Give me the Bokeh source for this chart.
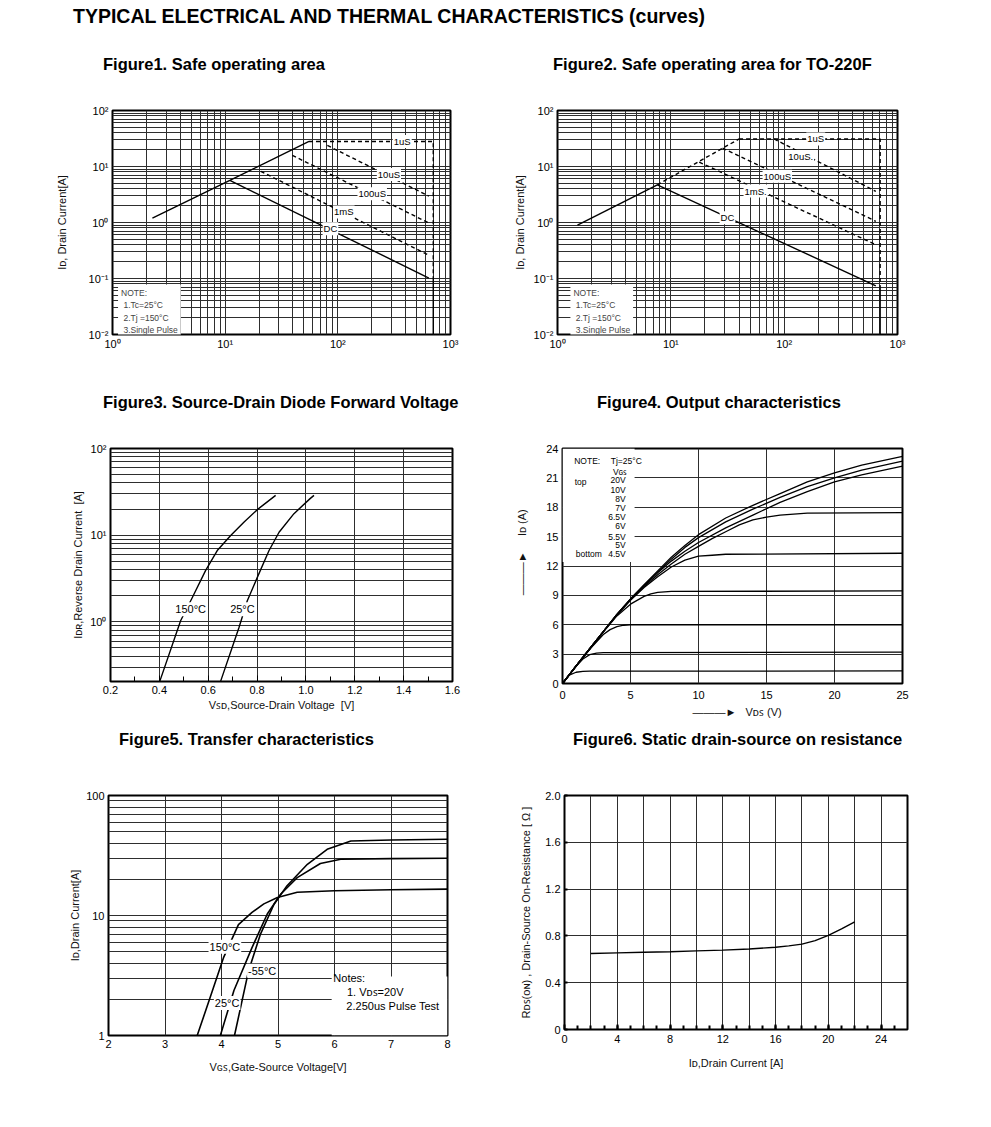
from bokeh.plotting import figure
from bokeh.models import Range1d, FixedTicker, CustomJSTickFormatter, Label, Div, PrintfTickFormatter
from bokeh.layouts import column, row
from bokeh.embed import file_html
from bokeh.resources import INLINE

FONT = "Liberation Sans"
NB = "\u00a0"

# ---------------- Figure 1: Safe operating area ----------------
f1_env_x = [2.26, 11.0, 55.5]
f1_env_y = [1.2, 5.65, 28.0]
f1_dc_x = [11.0, 643.0]
f1_dc_y = [5.65, 0.102]
f1_lim_x = [55.5, 703.0, 703.0]
f1_lim_y = [28.0, 28.0, 0.11]
f1_cut_x = [703.0, 703.0]
f1_cut_y = [0.11, 0.01]
f1_10us_x = [80.7, 643.0]
f1_10us_y = [23.8, 2.96]
f1_100us_x = [39.5, 643.0]
f1_100us_y = [15.8, 0.98]
f1_1ms_x = [20.7, 643.0]
f1_1ms_y = [8.2, 0.26]
f1_lbl_text = ["1uS", "10uS", "100uS", "1mS", "DC"]
f1_lbl_x = [373.0, 284.0, 202.0, 113.0, 86.0]
f1_lbl_y = [28.0, 7.2, 3.27, 1.54, 0.776]
f1_note_xy = (1.12, 0.078)

# ---------------- Figure 2: SOA for TO-220F ----------------
f2_env_x = [1.5, 7.6]
f2_env_y = [0.9, 4.7]
f2_dc_x = [7.6, 644.0]
f2_dc_y = [4.7, 0.074]
f2_denv_x = [7.6, 40.0]
f2_denv_y = [4.7, 31.0]
f2_lim_x = [40.0, 703.0, 703.0]
f2_lim_y = [31.0, 31.0, 0.074]
f2_cut_x = [703.0, 703.0]
f2_cut_y = [0.074, 0.01]
f2_10us_x = [81.6, 644.0]
f2_10us_y = [31.0, 3.6]
f2_100us_x = [28.6, 644.0]
f2_100us_y = [21.3, 1.05]
f2_1ms_x = [17.8, 644.0]
f2_1ms_y = [12.0, 0.4]
f2_lbl_text = ["1uS", "10uS.", "100uS", "1mS.", "DC"]
f2_lbl_x = [190.0, 140.0, 87.0, 56.0, 31.6]
f2_lbl_y = [31.0, 15.1, 6.7, 3.65, 1.22]
f2_note_xy = (1.30, 0.078)

NOTE_TEXT = "\n".join(["NOTE:", NB + "1.Tc=25°C", NB + "2.Tj =150°C", NB + "3.Single Pulse"])

# ---------------- Figure 3: Source-drain diode forward voltage ----------------
f3_150_x = [0.402, 0.487, 0.535, 0.589, 0.637, 0.692, 0.747, 0.801, 0.876]
f3_150_y = [0.207, 1.03, 1.91, 3.9, 6.65, 9.93, 14.2, 19.7, 28.8]
f3_25_x = [0.651, 0.726, 0.76, 0.801, 0.849, 0.89, 0.951, 1.017, 1.033]
f3_25_y = [0.207, 0.86, 1.75, 3.26, 6.65, 10.8, 17.7, 26.4, 28.8]
f3_lbl_text = ["150°C", "25°C"]
f3_lbl_x = [0.528, 0.74]
f3_lbl_y = [1.4, 1.4]
f3_xticks = [0.2, 0.4, 0.6, 0.8, 1.0, 1.2, 1.4, 1.6]

# ---------------- Figure 4: Output characteristics ----------------
f4_45_x = [0, 0.5, 1.0, 1.5, 2.0, 25]
f4_45_y = [0, 0.85, 1.15, 1.24, 1.26, 1.28]
f4_50_x = [0, 1.0, 1.5, 2.0, 2.5, 3.0, 25]
f4_50_y = [0, 1.75, 2.5, 2.95, 3.1, 3.15, 3.2]
f4_55_x = [0, 1, 2, 3, 3.5, 4, 4.5, 5, 25]
f4_55_y = [0, 1.75, 3.5, 5.0, 5.5, 5.8, 5.95, 6.0, 6.0]
f4_60_x = [0, 1, 2, 3, 4, 5, 6, 6.5, 7, 8, 25]
f4_60_y = [0, 1.8, 3.5, 5.25, 6.9, 8.1, 8.9, 9.15, 9.3, 9.4, 9.45]
f4_65_x = [0, 1, 2, 3, 4, 5, 6, 7, 8, 9, 10, 11, 12, 25]
f4_65_y = [0, 1.8, 3.55, 5.3, 7.0, 8.5, 9.8, 10.9, 11.9, 12.6, 13.0, 13.1, 13.2, 13.3]
f4_70_x = [0, 1, 2, 3, 4, 5, 6, 7, 8, 9, 10, 11, 12, 13, 14, 15, 16, 18, 25]
f4_70_y = [0, 1.8, 3.55, 5.3, 7.0, 8.55, 9.9, 11.1, 12.2, 13.2, 14.0, 14.8, 15.5, 16.2, 16.7, 17.0, 17.2, 17.4, 17.45]
f4_hi_x = [0, 1, 2, 3, 4, 5, 6, 7, 8, 9, 10, 12, 14, 16, 18, 20, 22, 25]
f4_80_y = [0, 1.8, 3.55, 5.3, 7.05, 8.6, 10.0, 11.3, 12.5, 13.5, 14.4, 15.9, 17.2, 18.5, 19.6, 20.6, 21.3, 22.2]
f4_100_y = [0, 1.8, 3.55, 5.3, 7.05, 8.6, 10.05, 11.4, 12.7, 13.9, 14.9, 16.5, 17.8, 19.0, 20.1, 21.0, 21.8, 22.7]
f4_200_y = [0, 1.8, 3.55, 5.3, 7.05, 8.65, 10.1, 11.5, 12.9, 14.1, 15.2, 16.9, 18.2, 19.4, 20.6, 21.5, 22.3, 23.2]
f4_vgs_text = ["20V", "10V", "8V", "7V", "6.5V", "6V", "5.5V", "5V", "4.5V"]
f4_vgs_y = [20.8, 19.8, 18.85, 17.9, 17.0, 16.1, 15.0, 14.1, 13.2]
f4_vgs_xr = 4.65

# ---------------- Figure 5: Transfer characteristics ----------------
f5_150_x = [3.57, 3.80, 4.04, 4.30, 4.54, 4.75, 4.99, 5.34, 6.0, 7.0, 8.0]
f5_150_y = [1.0, 2.08, 4.5, 8.4, 10.6, 12.5, 14.1, 15.6, 16.1, 16.4, 16.6]
f5_25_x = [3.98, 4.22, 4.54, 4.81, 5.05, 5.34, 5.75, 6.11, 7.0, 8.0]
f5_25_y = [1.0, 2.37, 5.4, 10.3, 15.1, 20.7, 27.1, 29.4, 29.8, 30.0]
f5_m55_x = [4.23, 4.48, 4.69, 4.93, 5.16, 5.52, 5.87, 6.29, 7.0, 8.0]
f5_m55_y = [1.0, 3.47, 7.0, 12.4, 17.7, 26.7, 35.6, 41.8, 42.6, 43.2]
f5_lbl_text = ["150°C", "-55°C", "25°C"]
f5_lbl_x = [4.06, 4.72, 4.10]
f5_lbl_y = [5.5, 3.47, 1.87]

# ---------------- Figure 6: Static drain-source on resistance ----------------
f6_x = [2, 4, 6, 8, 10, 12, 14, 16, 17, 18, 19, 20, 21, 22]
f6_y = [0.650, 0.655, 0.660, 0.665, 0.672, 0.678, 0.688, 0.703, 0.715, 0.730, 0.760, 0.805, 0.860, 0.920]


def log_fmt():
    return CustomJSTickFormatter(code="""
const sup = {"0": "\u2070", "1": "\u00b9", "2": "\u00b2", "3": "\u00b3", "-": "\u207b"};
const e = Math.round(Math.log10(tick));
return "10" + String(e).split("").map(c => sup[c]).join("");
""")


def decade_minors(lo_exp, hi_exp):
    return [m * 10.0 ** k for k in range(lo_exp, hi_exp) for m in range(2, 10)]


GRID = "#2e2e2e"


def make_fig(xr, yr, fw, fh, bl, bt, br, bb, xt="linear", yt="linear"):
    p = figure(x_axis_type=xt, y_axis_type=yt, x_range=Range1d(*xr), y_range=Range1d(*yr),
               frame_width=fw, frame_height=fh, min_border_left=bl, min_border_top=bt,
               min_border_right=br, min_border_bottom=bb, title=None,
               output_backend="svg", toolbar_location=None,
               background_fill_color="white", border_fill_color="white")
    p.outline_line_color = "black"
    p.outline_line_width = 2
    p.outline_line_alpha = 1
    for ax in p.axis:
        ax.axis_line_color = None
        ax.major_tick_line_color = "black"
        ax.minor_tick_line_color = "black"
        ax.major_tick_in = 0
        ax.major_tick_out = 0
        ax.minor_tick_in = 0
        ax.minor_tick_out = 0
        ax.major_label_text_font = FONT
        ax.major_label_text_font_size = "11px"
        ax.major_label_text_color = "black"
        ax.axis_label_text_font = FONT
        ax.axis_label_text_font_size = "11px"
        ax.axis_label_text_font_style = "normal"
        ax.axis_label_text_color = "#111"
        ax.major_label_standoff = 4
    for g in (p.xgrid, p.ygrid):
        g.grid_line_color = GRID
        g.grid_line_width = 1
    return p


def add_label(p, x, y, text, size="9.5px", align="center", baseline="middle", bg=True):
    lab = Label(x=x, y=y, text=text, text_font=FONT, text_font_size=size,
                text_align=align, text_baseline=baseline, text_color="black")
    if bg:
        lab.background_fill_color = "white"
        lab.padding = 1
    p.add_layout(lab)


def title_div(text, width, height, pad_left, pad_top=4, size=16.5, lh=20):
    html = (f'<div style="font-family:\'{FONT}\',Arial,sans-serif;font-weight:bold;'
            f'font-size:{size}px;line-height:{lh}px;padding-left:{pad_left}px;'
            f'padding-top:{pad_top}px;white-space:nowrap;color:#000;">{text}</div>')
    return Div(text=html, width=width, height=height, margin=(0, 0, 0, 0))


LW = 1.4
DASH = "4 3"

# ---------- Fig 1 ----------
p1 = make_fig((1, 1000), (0.01, 100), 338, 224, 104, 22, 54, 54, "log", "log")
p1.xaxis.ticker = FixedTicker(ticks=[1, 10, 100, 1000], minor_ticks=decade_minors(0, 3))
p1.yaxis.ticker = FixedTicker(ticks=[0.01, 0.1, 1, 10, 100], minor_ticks=decade_minors(-2, 2))
p1.xaxis.formatter = log_fmt()
p1.yaxis.formatter = log_fmt()
p1.xgrid.minor_grid_line_color = GRID
p1.ygrid.minor_grid_line_color = GRID
p1.yaxis.axis_label = "Iᴅ, Drain Current[A]"
p1.yaxis.axis_label_standoff = 18
p1.xaxis.major_label_standoff = 3
p1.line(f1_env_x, f1_env_y, line_color="black", line_width=LW)
p1.line(f1_dc_x, f1_dc_y, line_color="black", line_width=LW)
p1.line(f1_lim_x, f1_lim_y, line_color="black", line_width=LW, line_dash=DASH)
p1.line(f1_cut_x, f1_cut_y, line_color="black", line_width=LW)
for xs, ys in ((f1_10us_x, f1_10us_y), (f1_100us_x, f1_100us_y), (f1_1ms_x, f1_1ms_y)):
    p1.line(xs, ys, line_color="black", line_width=LW, line_dash=DASH)
for t, x, y in zip(f1_lbl_text, f1_lbl_x, f1_lbl_y):
    add_label(p1, x, y, t)
note1 = Label(x=f1_note_xy[0], y=f1_note_xy[1], text=NOTE_TEXT, text_font=FONT, text_font_size="8.5px",
              text_align="left", text_baseline="top", background_fill_color="white", padding=3,
              text_line_height=1.25)
p1.add_layout(note1)

# ---------- Fig 2 ----------
p2 = make_fig((1, 1000), (0.01, 100), 340, 224, 53, 22, 86, 54, "log", "log")
p2.xaxis.ticker = FixedTicker(ticks=[1, 10, 100, 1000], minor_ticks=decade_minors(0, 3))
p2.yaxis.ticker = FixedTicker(ticks=[0.01, 0.1, 1, 10, 100], minor_ticks=decade_minors(-2, 2))
p2.xaxis.formatter = log_fmt()
p2.yaxis.formatter = log_fmt()
p2.xgrid.minor_grid_line_color = GRID
p2.ygrid.minor_grid_line_color = GRID
p2.yaxis.axis_label = "Iᴅ, Drain Current[A]"
p2.yaxis.axis_label_standoff = 5
p2.xaxis.major_label_standoff = 3
p2.line(f2_env_x, f2_env_y, line_color="black", line_width=LW)
p2.line(f2_dc_x, f2_dc_y, line_color="black", line_width=LW)
p2.line(f2_denv_x, f2_denv_y, line_color="black", line_width=LW, line_dash=DASH)
p2.line(f2_lim_x, f2_lim_y, line_color="black", line_width=LW, line_dash=DASH)
p2.line(f2_cut_x, f2_cut_y, line_color="black", line_width=LW)
for xs, ys in ((f2_10us_x, f2_10us_y), (f2_100us_x, f2_100us_y), (f2_1ms_x, f2_1ms_y)):
    p2.line(xs, ys, line_color="black", line_width=LW, line_dash=DASH)
for t, x, y in zip(f2_lbl_text, f2_lbl_x, f2_lbl_y):
    add_label(p2, x, y, t)
note2 = Label(x=f2_note_xy[0], y=f2_note_xy[1], text=NOTE_TEXT, text_font=FONT, text_font_size="8.5px",
              text_align="left", text_baseline="top", background_fill_color="white", padding=3,
              text_line_height=1.25)
p2.add_layout(note2)

# ---------- Fig 3 ----------
p3 = make_fig((0.2, 1.6), (0.205, 100), 342, 233, 102, 20, 52, 44, "linear", "log")
p3.xaxis.ticker = FixedTicker(ticks=f3_xticks, minor_ticks=[0.3, 0.5, 0.7, 0.9, 1.1, 1.3, 1.5])
p3.xaxis.formatter = PrintfTickFormatter(format="%.1f")
p3.xaxis.major_tick_in = 6
p3.xaxis.minor_tick_in = 5
p3.yaxis.ticker = FixedTicker(ticks=[1, 10, 100], minor_ticks=[0.3, 0.4, 0.5, 0.6, 0.7, 0.8, 0.9] + decade_minors(0, 2))
p3.yaxis.formatter = log_fmt()
p3.ygrid.minor_grid_line_color = GRID
p3.yaxis.axis_label = "Iᴅʀ,Reverse Drain Current" + NB + NB + "[A]"
p3.xaxis.axis_label = "Vꜱᴅ,Source-Drain Voltage" + NB + NB + "[V]"
p3.yaxis.axis_label_standoff = 3
p3.xaxis.axis_label_standoff = 2
p3.line(f3_150_x, f3_150_y, line_color="black", line_width=LW)
p3.line(f3_25_x, f3_25_y, line_color="black", line_width=LW)
for t, x, y in zip(f3_lbl_text, f3_lbl_x, f3_lbl_y):
    add_label(p3, x, y, t, size="11px")

# ---------- Fig 4 ----------
p4 = make_fig((0, 25), (0, 24), 340, 235, 58, 20, 81, 42)
p4.xaxis.ticker = FixedTicker(ticks=[0, 5, 10, 15, 20, 25])
p4.yaxis.ticker = FixedTicker(ticks=[0, 3, 6, 9, 12, 15, 18, 21, 24])
p4.xaxis.major_label_standoff = 7
p4.yaxis.axis_label = NB * 9 + "———►" + NB * 5 + "Iᴅ (A)"
p4.xaxis.axis_label = NB * 3 + "———►" + NB * 3 + "Vᴅꜱ (V)"
p4.yaxis.axis_label_standoff = 15
p4.xaxis.axis_label_standoff = 4
p4.quad(left=[0], right=[5.3], bottom=[12.4], top=[24], fill_color="white", line_color=None)
for ys, xs in ((f4_45_y, f4_45_x), (f4_50_y, f4_50_x), (f4_55_y, f4_55_x), (f4_60_y, f4_60_x),
               (f4_65_y, f4_65_x), (f4_70_y, f4_70_x), (f4_80_y, f4_hi_x), (f4_100_y, f4_hi_x),
               (f4_200_y, f4_hi_x)):
    p4.line(xs, ys, line_color="black", line_width=1.3)
add_label(p4, 0.86, 22.7, "NOTE:", size="8.5px", align="left", bg=False)
add_label(p4, 3.55, 22.7, "Tj=25°C", size="8.5px", align="left", bg=False)
add_label(p4, 4.77, 21.65, "Vɢꜱ", size="8.5px", align="right", bg=False)
add_label(p4, 0.9, 20.6, "top", size="8.5px", align="left", bg=False)
add_label(p4, 0.98, 13.25, "bottom", size="8.5px", align="left", bg=False)
for t, y in zip(f4_vgs_text, f4_vgs_y):
    add_label(p4, f4_vgs_xr, y, t, size="8.5px", align="right", bg=False)

# ---------- Fig 5 ----------
p5 = make_fig((2, 8), (1, 100), 339, 240, 100, 22, 57, 48, "linear", "log")
p5.xaxis.ticker = FixedTicker(ticks=[2, 3, 4, 5, 6, 7, 8])
p5.yaxis.ticker = FixedTicker(ticks=[1, 10, 100], minor_ticks=decade_minors(0, 2))
p5.yaxis.formatter = CustomJSTickFormatter(code="return tick.toFixed(0);")
p5.ygrid.minor_grid_line_color = GRID
p5.yaxis.axis_label = "Iᴅ,Drain Current[A]"
p5.xaxis.axis_label = "Vɢꜱ,Gate-Source Voltage[V]"
p5.yaxis.axis_label_standoff = 2
p5.xaxis.axis_label_standoff = 10
p5.quad(left=[5.95], right=[8], bottom=[1], top=[3.1], fill_color="white", line_color=None)
p5.line(f5_150_x, f5_150_y, line_color="black", line_width=1.6)
p5.line(f5_25_x, f5_25_y, line_color="black", line_width=1.6)
p5.line(f5_m55_x, f5_m55_y, line_color="black", line_width=1.6)
for t, x, y in zip(f5_lbl_text, f5_lbl_x, f5_lbl_y):
    add_label(p5, x, y, t, size="11px")
add_label(p5, 5.98, 2.99, "Notes:", size="11px", align="left", bg=False)
add_label(p5, 6.22, 2.29, "1. Vᴅꜱ=20V", size="11px", align="left", bg=False)
add_label(p5, 6.21, 1.77, "2.250us Pulse Test", size="11px", align="left", bg=False)

# ---------- Fig 6 ----------
p6 = make_fig((0, 26), (0, 2.0), 343, 234, 60, 25, 76, 51)
p6.xaxis.ticker = FixedTicker(ticks=[0, 4, 8, 12, 16, 20, 24], minor_ticks=list(range(1, 26)))
p6.xgrid.ticker = FixedTicker(ticks=[2, 4, 6, 8, 10, 12, 14, 16, 18, 20, 22, 24])
p6.yaxis.ticker = FixedTicker(ticks=[0, 0.4, 0.8, 1.2, 1.6, 2.0])
p6.yaxis.formatter = CustomJSTickFormatter(code="return tick == 0 ? '0' : tick.toFixed(1);")
p6.xaxis.major_tick_in = 5
p6.xaxis.minor_tick_in = 4
p6.xaxis.major_tick_line_width = 2
p6.xaxis.minor_tick_line_width = 2
p6.yaxis.major_tick_in = 3
p6.yaxis.major_tick_line_width = 2
p6.xaxis.major_label_standoff = 5
p6.yaxis.axis_label = "Rᴅꜱ(ᴏɴ) , Drain-Source On-Resistance [ Ω ]"
p6.xaxis.axis_label = "Iᴅ,Drain Current [A]"
p6.yaxis.axis_label_standoff = 10
p6.xaxis.axis_label_standoff = 11
p6.line(f6_x, f6_y, line_color="black", line_width=1.4)

# ---------- Titles & layout ----------
main_title = Div(text=(f'<div style="font-family:\'{FONT}\',Arial,sans-serif;font-weight:bold;'
                       f'font-size:19.5px;line-height:22px;padding-left:65px;padding-top:5px;'
                       f'white-space:nowrap;color:#000;">'
                       f'TYPICAL ELECTRICAL AND THERMAL CHARACTERISTICS (curves)</div>'),
                 width=975, height=50, margin=(0, 0, 0, 0))

t1 = title_div("Figure1. Safe operating area", 496, 38, 95)
t2 = title_div("Figure2. Safe operating area for TO-220F", 479, 38, 49)
t3 = title_div("Figure3. Source-Drain Diode Forward Voltage", 496, 40, 95)
t4 = title_div("Figure4. Output characteristics", 479, 40, 93)
t5 = title_div("Figure5. Transfer characteristics", 496, 45, 111)
t6 = title_div("Figure6. Static drain-source on resistance", 479, 45, 69)

layout = column(
    main_title,
    row(t1, t2, spacing=0),
    row(p1, p2, spacing=0),
    row(t3, t4, spacing=0),
    row(p3, p4, spacing=0),
    row(t5, t6, spacing=0),
    row(p5, p6, spacing=0),
    spacing=0,
    margin=(0, 0, 0, 8),
)

with open("out.html", "w") as f:
    f.write(file_html(layout, INLINE))
